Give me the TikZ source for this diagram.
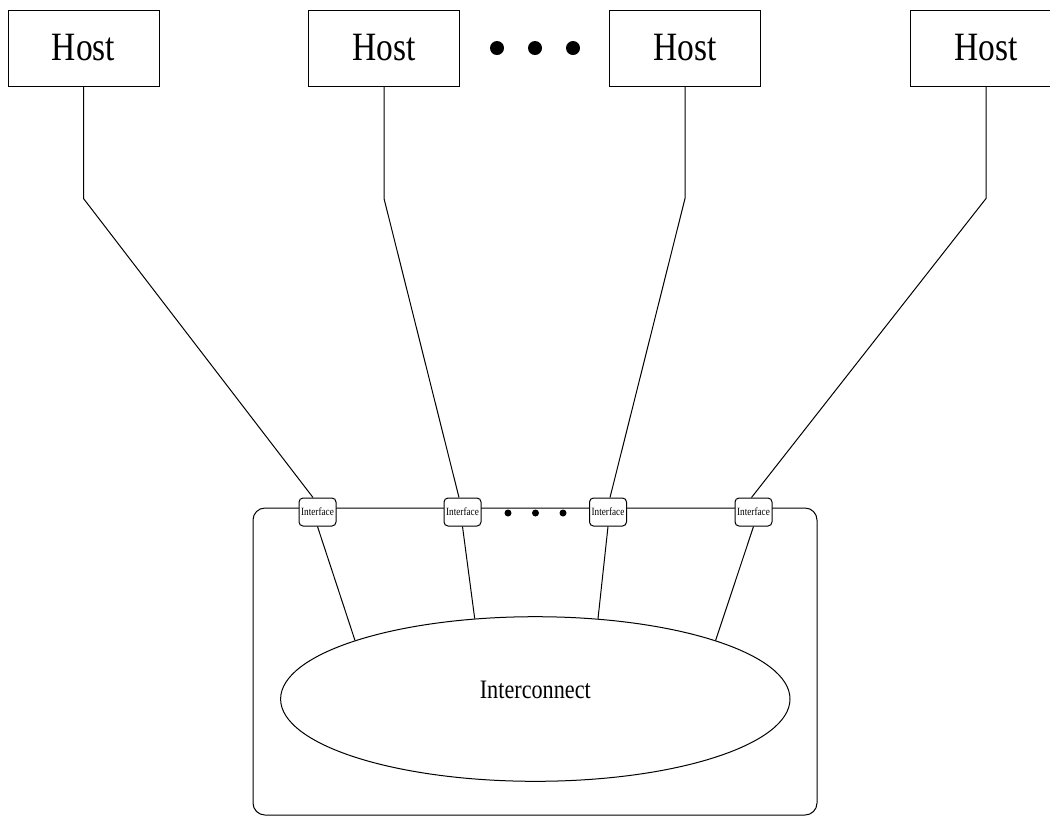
\documentclass[tikz,border=0pt]{standalone}
\usepackage{graphicx}
\usepackage{fontspec}
\setmainfont{Liberation Serif}
\usetikzlibrary{shapes.geometric}
\newcommand\vstretch[1]{\scalebox{1}[1.2]{#1}}
\begin{document}
\begin{tikzpicture}[x=0.5pt,y=-0.5pt,line width=0.5pt,
  host/.style={draw, rectangle, minimum width=75.5pt, minimum height=38pt, inner sep=0pt, font=\fontsize{16.75}{20}\selectfont},
  iface/.style={draw, fill=white, rounded corners=2pt, minimum width=18.5pt, minimum height=14pt, inner sep=0pt, font=\fontsize{4.6}{5}\selectfont},
  bigdot/.style={circle, fill=black, minimum size=7pt, inner sep=0pt},
  smalldot/.style={circle, fill=black, minimum size=3.5pt, inner sep=0pt},
  wire/.style={draw}]
\useasboundingbox (0,0) rectangle (1050,816);
% hosts
\node[host] (h1) at (83.5,48) {\vstretch{Host}};
\node[host] (h2) at (384,48) {\vstretch{Host}};
\node[host] (h3) at (685,48) {\vstretch{Host}};
\node[host] (h4) at (986,48) {\vstretch{Host}};
\node[bigdot] (d1) at (497,48) {};
\node[bigdot] (d2) at (535,48) {};
\node[bigdot] (d3) at (573,48) {};
% enclosure
\draw[rounded corners=6pt] (253,508) rectangle (817,815);
% interconnect
\node[ellipse, draw, minimum width=254.7pt, minimum height=82.3pt, inner sep=0pt] (ic) at (535.3,699) {};
\node[font=\fontsize{11.1}{13}\selectfont] (icl) at (535.3,690) {\vstretch{Interconnect}};
% interfaces
\node[iface] (i1) at (317.5,512) {\vstretch{Interface}};
\node[iface] (i2) at (462.5,512) {\vstretch{Interface}};
\node[iface] (i3) at (608,512) {\vstretch{Interface}};
\node[iface] (i4) at (753.5,512) {\vstretch{Interface}};
\node[smalldot] (s1) at (508,513) {};
\node[smalldot] (s2) at (535.5,513) {};
\node[smalldot] (s3) at (563,513) {};
% wires host -> interface
\draw[wire] (h1.south) -- ++(0,112) -- ([xshift=-2.25pt]i1.north);
\draw[wire] (h2.south) -- ++(0,112) -- ([xshift=-1.75pt]i2.north);
\draw[wire] (h3.south) -- ++(0,112) -- ([xshift=1pt]i3.north);
\draw[wire] (h4.south) -- ++(0,112) -- ([xshift=-1pt]i4.north);
% wires interface -> interconnect
\draw[wire] (i1.south) -- (ic.162);
\draw[wire] (i2.south) -- (ic.127.9);
\draw[wire] (i3.south) -- (ic.52.1);
\draw[wire] (i4.south) -- (ic.18);
\end{tikzpicture}
\end{document}
